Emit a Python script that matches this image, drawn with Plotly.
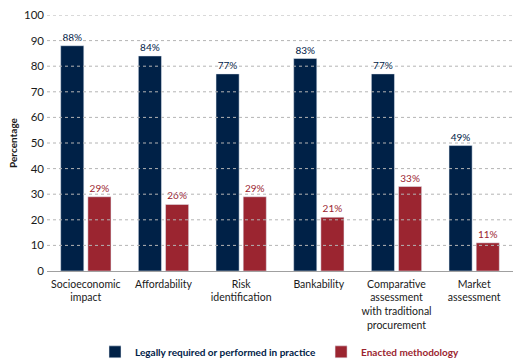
import plotly.graph_objects as go

categories = ["Socioeconomic<br>impact", "Affordability", "Risk<br>identification",
              "Bankability", "Comparative<br>assessment<br>with traditional<br>procurement",
              "Market<br>assessment"]
legally_required = [88, 84, 77, 83, 77, 49]
enacted = [29, 26, 29, 21, 33, 11]
y_ticks = [0, 10, 20, 30, 40, 50, 60, 70, 80, 90, 100]

NAVY = "#002147"
RED = "#9B2530"
FONT = "Lato"

fig = go.Figure()
fig.add_trace(go.Bar(
    x=categories, y=legally_required,
    name="<b>Legally required or performed in practice</b>",
    marker_color=NAVY,
    text=[f"{v}%" for v in legally_required], textposition="outside",
    textfont=dict(color=NAVY, size=10, family=FONT), cliponaxis=False,
))
fig.add_trace(go.Bar(
    x=categories, y=enacted,
    name=f"<b><span style='color:{RED}'>Enacted methodology</span></b>",
    marker_color=RED,
    text=[f"{v}%" for v in enacted], textposition="outside",
    textfont=dict(color=RED, size=10, family=FONT), cliponaxis=False,
))

for t in y_ticks[1:]:
    fig.add_shape(type="line", xref="paper", yref="y", x0=0, x1=1, y0=t, y1=t,
                  line=dict(color="#b4b4b4", width=1, dash="dot"), layer="above")

fig.update_layout(
    width=529, height=362,
    margin=dict(l=47, r=16, t=15, b=91, autoexpand=False),
    paper_bgcolor="white", plot_bgcolor="white",
    font=dict(family=FONT, size=11, color="#1a1a1a"),
    barmode="group", bargap=0.3, bargroupgap=0.15,
    showlegend=True,
    legend=dict(orientation="h", x=0.5, xanchor="center", yref="container",
                y=0.028, yanchor="middle", font=dict(size=10, color=NAVY, family=FONT),
                itemwidth=30, tracegroupgap=0),
    xaxis=dict(showgrid=False, showline=True, linecolor="#a0a0a0", linewidth=1,
               ticks="", automargin=False, ticklabelstandoff=3,
               tickfont=dict(size=10.5, color="#1a1a1a")),
    yaxis=dict(range=[0, 100], tickvals=y_ticks, showgrid=False, zeroline=False,
               showline=False, ticks="", automargin=False, ticklabelstandoff=2,
               tickfont=dict(size=11.5, color="#1a1a1a"),
               title=dict(text="<b>Percentage</b>", font=dict(size=10, color="#1a1a1a"),
                          standoff=4)),
)

fig.write_html("out.html", config={"displayModeBar": False},
               post_script="document.body.style.margin='0';")
